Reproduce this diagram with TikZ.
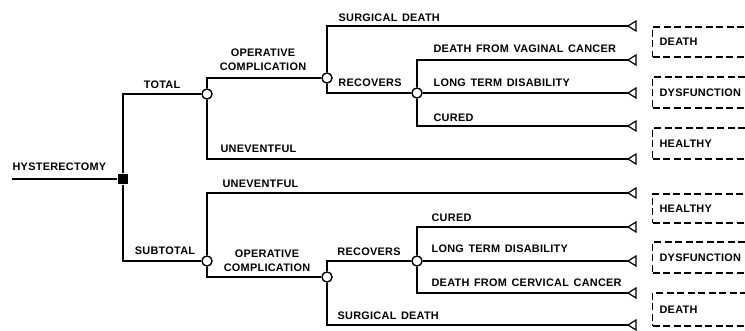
\documentclass[tikz,border=0pt]{standalone}
\usepackage{fontspec}
\setmainfont{Liberation Sans}[LetterSpace=2.5,WordSpace=1.4]
\begin{document}
\begin{tikzpicture}[x=1pt,y=-1pt,line width=1.2pt,
  lbl/.style={inner sep=0pt,font=\fontsize{10.9}{14}\selectfont\bfseries},
  chance/.style={circle,draw,fill=white,minimum size=10pt,inner sep=0pt,line width=1.2pt},
  decision/.style={rectangle,fill=black,minimum size=10pt,inner sep=0pt},
  term/.style={draw,fill=white,line width=1.2pt,line join=miter},
  outbox/.style={draw,dash pattern=on 7pt off 3.5pt,line width=1.2pt,anchor=west,
    text width=106pt,inner xsep=7pt,align=left,font=\fontsize{10.9}{14}\selectfont\bfseries}]
\useasboundingbox (0,0) rectangle (745,331);
\clip (0,0) rectangle (745,331);
% decision and chance nodes
\coordinate (start) at (12,179);
\node[decision] (dec) at (123,179) {};
\node[chance] (total) at (207,94) {};
\node[chance] (opc1) at (327,78) {};
\node[chance] (rec1) at (417,93) {};
\node[chance] (sub) at (207,261) {};
\node[chance] (opc2) at (327,277) {};
\node[chance] (rec2) at (417,261) {};
% terminal tips
\coordinate (t1) at (628,26);
\coordinate (t2) at (628,60);
\coordinate (t3) at (628,93);
\coordinate (t4) at (628,126);
\coordinate (t5) at (628,159);
\coordinate (t6) at (628,193);
\coordinate (t7) at (628,227);
\coordinate (t8) at (628,261);
\coordinate (t9) at (628,293);
\coordinate (t10) at (628,325);
% connectors
\draw (start) -- (dec);
\draw (dec) |- (total);
\draw (dec) |- (sub);
\draw (total) |- (opc1);
\draw (total) |- (t5);
\draw (opc1) |- (t1);
\draw (opc1) |- (rec1);
\draw (rec1) |- (t2);
\draw (rec1) -- (t3);
\draw (rec1) |- (t4);
\draw (sub) |- (t6);
\draw (sub) |- (opc2);
\draw (opc2) |- (rec2);
\draw (opc2) |- (t10);
\draw (rec2) |- (t7);
\draw (rec2) -- (t8);
\draw (rec2) |- (t9);
\foreach \t in {t1,t2,t3,t4,t5,t6,t7,t8,t9,t10}
  \draw[term] (\t) -- ++(8,-5) -- ++(0,10) -- cycle;
% redraw nodes on top
\node[decision] at (dec) {};
\node[chance] at (total) {};
\node[chance] at (opc1) {};
\node[chance] at (rec1) {};
\node[chance] at (sub) {};
\node[chance] at (opc2) {};
\node[chance] at (rec2) {};
% labels
\node[lbl,anchor=west] (lh) at (12,167) {HYSTERECTOMY};
\node[lbl] (ltot) at (162,85) {TOTAL};
\node[lbl] (lsub) at (165,251) {SUBTOTAL};
\node[lbl,align=center] (lop1) at (263,60) {OPERATIVE\\COMPLICATION};
\node[lbl] (lrec1) at (370,83) {RECOVERS};
\node[lbl,anchor=west] (lsd1) at (338,18) {SURGICAL DEATH};
\node[lbl,anchor=west] (lvag) at (433,49) {DEATH FROM VAGINAL CANCER};
\node[lbl,anchor=west] (lltd1) at (433,83) {LONG TERM DISABILITY};
\node[lbl,anchor=west] (lcur1) at (433,118) {CURED};
\node[lbl,anchor=west] (lun1) at (220,149) {UNEVENTFUL};
\node[lbl,anchor=west] (lun2) at (222,184) {UNEVENTFUL};
\node[lbl,align=center] (lop2) at (267,261) {OPERATIVE\\COMPLICATION};
\node[lbl] (lrec2) at (369,252) {RECOVERS};
\node[lbl,anchor=west] (lsd2) at (337,316) {SURGICAL DEATH};
\node[lbl,anchor=west] (lcur2) at (431,218) {CURED};
\node[lbl,anchor=west] (lltd2) at (431,249) {LONG TERM DISABILITY};
\node[lbl,anchor=west] (lcer) at (431,283) {DEATH FROM CERVICAL CANCER};
% outcome boxes
\node[outbox,minimum height=30pt] (o1) at (652,42) {DEATH};
\node[outbox,minimum height=31pt] (o2) at (652,92.5) {DYSFUNCTION};
\node[outbox,minimum height=31pt] (o3) at (652,143.5) {HEALTHY};
\node[outbox,minimum height=29pt] (o4) at (652,208.5) {HEALTHY};
\node[outbox,minimum height=31pt] (o5) at (652,257.5) {DYSFUNCTION};
\node[outbox,minimum height=33pt] (o6) at (652,309.5) {DEATH};
\end{tikzpicture}
\end{document}
